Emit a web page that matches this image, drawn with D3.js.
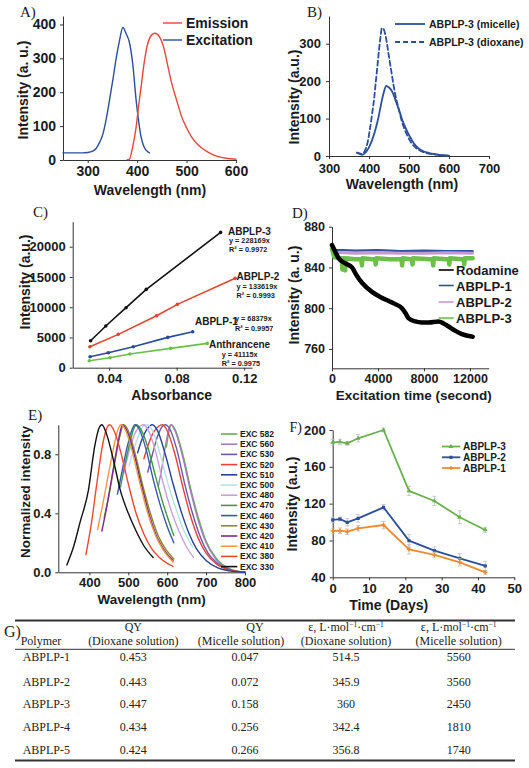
<!DOCTYPE html>
<html><head><meta charset="utf-8">
<script src="https://cdn.jsdelivr.net/npm/d3@7"></script>
<style>
body{margin:0;background:#fff}
svg{display:block}
.ax text{font-family:"Liberation Sans",Arial,Helvetica,sans-serif;font-weight:bold;fill:#1a1a1a}
.ax path,.ax line{stroke:#333;stroke-width:1}
</style></head><body>
<svg id="c" width="529" height="768"></svg>
<script>
// ---------- Panel A ----------
const aExcitation = [[250,21],[270,21],[290,21],[300,22],[310,26],[317,34],[324,52],[331,78],[338,125],[344,176],[351,238],[357,295],[364,350],[371,391],[378,372],[384,349],[391,285],[398,176],[403,115],[408,68],[413,42],[418,29],[425,21]];
const aEmission = [[380,1],[384,2],[391,39],[398,98],[403,160],[408,216],[415,295],[420,335],[425,359],[430,370],[436,374],[445,364],[455,325],[462,278],[470,226],[480,176],[490,128],[500,95],[510,68],[523,45],[537,29],[550,18],[564,10],[580,5],[600,2]];
const aXTicks = [300,400,500,600];
const aYTicks = [0,100,200,300,400];
// ---------- Panel B ----------
const bMicelle = [[370,9],[376,6],[383,3],[390,8],[396,16],[402,28],[408,43],[417,74],[423,100],[429,132],[436,166],[443,187],[450,183],[458,172],[466,150],[475,123],[483,97],[492,74],[502,52],[512,34],[522,22],[533,14],[550,8],[567,4.5],[585,2],[600,1]];
const bDioxane = [[370,9],[376,7],[383,5],[390,15],[396,34],[402,70],[408,114],[413,155],[417,198],[421,240],[425,283],[429,320],[432,341],[436,340],[440,328],[445,300],[450,265],[456,225],[462,185],[468,152],[475,123],[481,97],[488,74],[496,54],[504,38],[514,25],[525,16],[540,9],[558,5],[580,2],[600,1]];
const bXTicks = [300,400,500,600,700];
const bYTicks = [0,100,200,300];
// ---------- Panel C ----------
const cAbs3 = [0.029,0.038,0.050,0.062,0.106], cInt3 = [4460,6890,9920,12950,22370];
const cAbs2 = [0.0286,0.0454,0.0681,0.0804,0.1146], cInt2 = [3470,5510,8595,10470,14770];
const cAbs1 = [0.0287,0.0395,0.0543,0.0747,0.0895], cInt1 = [1820,2480,3470,5010,5950];
const cAbsA = [0.0282,0.0405,0.0523,0.0764,0.0981], cIntA = [1160,1650,2260,3200,4020];
const cNames = ["ABPLP-3","ABPLP-2","ABPLP-1","Anthrancene"];
const cEq = ["y = 228169x","y = 133619x","y = 68379x","y = 41115x"];
const cR2 = ["R² = 0.9972","R² = 0.9993","R² = 0.9957","R² = 0.9975"];
const cXTicks = [0.04,0.08,0.12];
const cYTicks = [0,5000,10000,15000,20000];
// ---------- Panel D ----------
const dRodamine = [[0,862],[300,855],[580,849],[1159,844],[1739,840],[2200,831],[2609,825],[3478,816],[4200,811],[4928,807],[5500,804],[6087,800],[6400,795],[6667,790],[7246,787],[7800,786],[8406,786],[9275,787],[9700,785],[10145,782],[10700,778],[11304,774.5],[12232,772]];
const dABPLP1 = [[0,862],[150,857],[1000,857],[2000,856.5],[4000,857],[6000,856],[8000,856.5],[10000,856],[12232,856]];
const dABPLP2 = [[0,860],[150,855],[2000,854],[4000,854.5],[6000,854],[8000,854],[10000,854.5],[12232,854]];
const dABPLP3 = [[0,858],[200,850],[700,849],[850,849],[900,838],[950,849],[1100,849],[1150,837],[1200,849],[2000,848],[2550,848],[2600,842],[2650,849],[3500,848],[3750,848],[3800,843],[3850,849],[5000,848],[6050,848],[6100,842],[6150,849],[6800,848],[6950,848],[7000,843],[7050,849],[8500,848],[8750,848],[8800,842],[8850,849],[9900,848],[10150,848],[10200,843],[10250,849],[11300,848],[11450,848],[11500,843],[11550,849],[12232,849]];
const dNames = ["Rodamine","ABPLP-1","ABPLP-2","ABPLP-3"];
const dXTicks = [0,4000,8000,12000];
const dYTicks = [760,800,840,880];
// ---------- Panel E ----------
const e330 = [[342,0.05],[360,0.18],[376,0.34],[397,0.55],[414,0.86],[425,0.98],[432,1.0],[445,0.93],[460,0.78],[480,0.55],[500,0.40],[520,0.28],[540,0.18],[564,0.10]];
const e380 = [[391,0.12],[405,0.33],[420,0.62],[435,0.88],[445,0.98],[452,1.0],[465,0.95],[480,0.82],[500,0.6],[520,0.4],[540,0.26],[560,0.16],[580,0.1],[600,0.06],[615,0.04]];
const e410 = [[421,0.29],[435,0.47],[450,0.68],[465,0.88],[475,0.98],[482,1.0],[495,0.95],[510,0.82],[530,0.6],[550,0.4],[570,0.25],[590,0.15],[615,0.07]];
const e420 = [[432,0.28],[445,0.45],[460,0.68],[475,0.9],[485,1.0],[498,0.95],[515,0.8],[535,0.58],[555,0.38],[575,0.23],[595,0.14],[615,0.08]];
const e430 = [[438,0.37],[450,0.52],[465,0.74],[478,0.92],[488,1.0],[500,0.96],[518,0.8],[538,0.58],[558,0.39],[578,0.24],[598,0.15],[617,0.09]];
const e460 = [[472,0.53],[485,0.7],[498,0.86],[510,0.97],[517,1.0],[528,0.97],[545,0.84],[565,0.62],[585,0.43],[600,0.31],[617,0.2]];
const e470 = [[480,0.58],[493,0.75],[505,0.89],[515,0.98],[521,1.0],[532,0.97],[550,0.85],[570,0.65],[590,0.46],[605,0.34],[617,0.25]];
const e480 = [[488,0.67],[500,0.8],[515,0.93],[530,0.99],[538,1.0],[550,0.97],[570,0.82],[590,0.6],[610,0.42],[630,0.28],[650,0.17],[668,0.1]];
const e500 = [[502,0.72],[515,0.84],[530,0.95],[542,1.0],[548,1.0],[560,0.97],[580,0.82],[600,0.62],[620,0.45],[640,0.3],[665,0.17]];
const e510 = [[524,0.81],[535,0.9],[548,0.97],[562,1.0],[575,0.96],[595,0.8],[615,0.6],[635,0.42],[655,0.27],[675,0.16],[700,0.08],[730,0.03],[760,0.01],[800,0]];
const e520 = [[540,0.77],[552,0.87],[565,0.95],[578,0.99],[588,1.0],[600,0.96],[620,0.8],[640,0.58],[660,0.38],[680,0.23],[700,0.13],[725,0.06],[760,0.015],[800,0]];
const e530 = [[550,0.68],[562,0.8],[575,0.92],[588,0.99],[595,1.0],[607,0.97],[625,0.83],[645,0.6],[665,0.4],[685,0.24],[705,0.13],[730,0.06],[765,0.015],[800,0]];
const e560 = [[577,0.58],[587,0.72],[597,0.88],[605,0.98],[610,1.0],[620,0.96],[640,0.78],[660,0.55],[680,0.35],[700,0.2],[725,0.09],[760,0.02],[800,0]];
const e582 = [[598,0.85],[604,0.95],[610,1.0],[620,0.97],[640,0.8],[660,0.57],[680,0.37],[700,0.21],[725,0.1],[760,0.025],[800,0]];
const eLabels = ["EXC 582","EXC 560","EXC 530","EXC 520","EXC 510","EXC 500","EXC 480","EXC 470","EXC 460","EXC 430","EXC 420","EXC 410","EXC 380","EXC 330"];
const eColors = ["#5fb24a","#a57cc4","#6a5aa6","#e8403a","#24428f","#b5e2e2","#c9a2d6","#3c9a46","#3a58a8","#8c8c2a","#7a2a8c","#f09a48","#ec4a30","#111111"];
const eXTicks = [400,500,600,700,800];
const eYTicks = [0,0.4,0.8];
// ---------- Panel F ----------
const fDays = [0,2,4,7,14,21,28,35,42];
const f3 = [186.6,187,185.5,191,200,133.8,122.9,105.2,91.4];
const f2 = [102.3,103.3,99.7,104,116,79.8,68.9,60.6,52.3];
const f1 = [90.3,90.6,89.5,93.2,96.8,70.4,64.3,56.3,45.4];
const f3Err = [3,3,2,4,2,5,5,7,3];
const f2Err = [3,2,4,4,3,7,4,5,5];
const f1Err = [3,3,3,3,4,5,3,4,2];
const fNames = ["ABPLP-3","ABPLP-2","ABPLP-1"];
const fXTicks = [0,10,20,30,40,50];
const fYTicks = [40,80,120,160,200];
// ---------- Table G ----------
const tPolymers = ["ABPLP-1","ABPLP-2","ABPLP-3","ABPLP-4","ABPLP-5"];
const tQYDiox = ["0.453","0.443","0.447","0.434","0.424"];
const tQYMic = ["0.047","0.072","0.158","0.256","0.266"];
const tEpsDiox = ["514.5","345.9","360","342.4","356.8"];
const tEpsMic = ["5560","3560","2450","1810","1740"];

// ================= drawing =================
const SANS = '"Liberation Sans", Arial, Helvetica, sans-serif';
const SERIF = '"Liberation Serif", "Times New Roman", Times, serif';
const svg = d3.select('#c');
svg.append('rect').attr('width',529).attr('height',768).attr('fill','#fff');

function axes(x, y, o){
  const gx = svg.append('g').attr('class','ax').attr('transform',`translate(0,${y.range()[0]})`)
    .call(d3.axisBottom(x).tickValues(o.xt).tickFormat(o.xf||d3.format('d')).tickSize(3).tickSizeOuter(0).tickPadding(o.xp||3));
  gx.selectAll('text').style('font-size',o.fs+'px');
  const gy = svg.append('g').attr('class','ax').attr('transform',`translate(${x.range()[0]},0)`)
    .call(d3.axisLeft(y).tickValues(o.yt).tickFormat(o.yf||d3.format('d')).tickSize(3).tickSizeOuter(0).tickPadding(o.yp||4));
  gy.selectAll('text').style('font-size',o.fs+'px');
}
function txt(x, y, s, o={}){
  const t = svg.append('text').attr('x',x).attr('y',y).text(s)
    .attr('font-family',o.ff||SANS).attr('font-weight',o.fw||'bold').attr('font-size',o.fs||13)
    .attr('fill',o.fill||'#1a1a1a').attr('text-anchor',o.anchor||'start');
  if(o.rot){ t.attr('transform',`rotate(-90,${x},${y})`).attr('dominant-baseline','middle').attr('text-anchor','middle'); }
  return t;
}
function path(data, x, y, color, w, o={}){
  const line = d3.line().x(d=>x(d[0])).y(d=>y(d[1])).curve(o.curve||d3.curveLinear);
  const p = svg.append('path').datum(data).attr('d',line).attr('fill','none').attr('stroke',color).attr('stroke-width',w)
    .attr('stroke-linejoin','round').attr('stroke-linecap','round');
  if(o.dash) p.attr('stroke-dasharray',o.dash);
  return p;
}

// ---- A ----
{
  const x = d3.scaleLinear().domain([250,600]).range([63,236]);
  const y = d3.scaleLinear().domain([0,425]).range([160,16]);
  axes(x,y,{xt:aXTicks,yt:aYTicks,fs:14});
  path(aExcitation,x,y,'#2c4f99',1.4,{curve:d3.curveMonotoneX});
  path(aEmission,x,y,'#e8463c',1.4,{curve:d3.curveMonotoneX});
  const lg=[["Emission",'#e8463c',23],["Excitation",'#2c4f99',40]];
  lg.forEach(l=>{ svg.append('line').attr('x1',163).attr('x2',182).attr('y1',l[2]).attr('y2',l[2]).attr('stroke',l[1]).attr('stroke-width',1.4);
    txt(186,l[2]+5,l[0],{fs:14}); });
  txt(20,17,'A)',{ff:SERIF,fw:'normal',fs:15});
  txt(150,195,'Wavelength (nm)',{fs:14,anchor:'middle'});
  txt(24,90,'Intensity (a. u.)',{fs:14,rot:true});
}
// ---- B ----
{
  const x = d3.scaleLinear().domain([300,700]).range([329,489]);
  const y = d3.scaleLinear().domain([0,374]).range([156,16]);
  axes(x,y,{xt:bXTicks,yt:bYTicks,fs:13,xp:5,yp:5});
  path(bMicelle,x,y,'#2d4f9a',1.8,{curve:d3.curveMonotoneX});
  path(bDioxane,x,y,'#2d4f9a',1.8,{curve:d3.curveMonotoneX,dash:'5,3'});
  [["ABPLP-3 (micelle)",24,null],["ABPLP-3 (dioxane)",42,'5,3']].forEach(l=>{
    const ln=svg.append('line').attr('x1',395).attr('x2',425).attr('y1',l[1]).attr('y2',l[1]).attr('stroke','#2d4f9a').attr('stroke-width',1.8);
    if(l[2]) ln.attr('stroke-dasharray',l[2]);
    txt(429,l[1]+4,l[0],{fs:10.5});
  });
  txt(307,17,'B)',{ff:SERIF,fw:'normal',fs:15});
  txt(402,189,'Wavelength (nm)',{fs:14,anchor:'middle'});
  txt(295,97,'Intensity (a.u.)',{fs:14,rot:true});
}
// ---- C ----
{
  const x = d3.scaleLinear().domain([0.0184,0.1246]).range([72.7,252]);
  const y = d3.scaleLinear().domain([0,24135]).range([367.7,221.7]);
  axes(x,y,{xt:cXTicks,yt:cYTicks,fs:13,xf:d3.format('.2f')});
  const sets=[[cAbs3,cInt3,'#111'],[cAbs2,cInt2,'#e8432e'],[cAbs1,cInt1,'#2a4aa0'],[cAbsA,cIntA,'#6ac046']];
  sets.forEach(s=>{
    const pts=s[0].map((v,i)=>[v,s[1][i]]);
    path(pts,x,y,s[2],1.6);
    svg.selectAll(null).data(pts).enter().append('circle').attr('cx',d=>x(d[0])).attr('cy',d=>y(d[1])).attr('r',1.8).attr('fill',s[2]);
  });
  txt(228,235,cNames[0],{fs:10});
  txt(229,242.5,cEq[0],{fs:7.3});
  txt(229,251.5,cR2[0],{fs:7.3});
  txt(236.5,280,cNames[1],{fs:10});
  txt(236.5,288.5,cEq[1],{fs:7.3});
  txt(236.5,298,cR2[1],{fs:7.3});
  txt(195,325,cNames[2],{fs:10});
  txt(235,321,cEq[2],{fs:7.3});
  txt(235,331,cR2[2],{fs:7.3});
  txt(209,348,cNames[3],{fs:10});
  txt(221.7,357,cEq[3],{fs:7.3});
  txt(221.7,366,cR2[3],{fs:7.3});
  txt(33,217,'C)',{ff:SERIF,fw:'normal',fs:15});
  txt(171.7,400,'Absorbance',{fs:14,anchor:'middle'});
  txt(26,282,'Intensity (a.u.)',{fs:14,rot:true});
}
// ---- D ----
{
  const x = d3.scaleLinear().domain([0,13627]).range([332,488.7]);
  const y = d3.scaleLinear().domain([741,880]).range([368.3,226.7]);
  axes(x,y,{xt:dXTicks,yt:dYTicks,fs:12.5});
  path(dABPLP1,x,y,'#2f4fa0',2.2);
  path(dABPLP2,x,y,'#c49ad0',3);
  path(dABPLP3,x,y,'#6cc04a',4.5);
  path(dRodamine,x,y,'#000',4.5,{curve:d3.curveMonotoneX});
  const cols=['#000','#2f4fa0','#c49ad0','#6cc04a'];
  const ly=[270,285.5,302,318];
  dNames.forEach((n,i)=>{
    svg.append('line').attr('x1',438.7).attr('x2',453.7).attr('y1',ly[i]).attr('y2',ly[i]).attr('stroke',cols[i]).attr('stroke-width',1.6);
    txt(456,ly[i]+5,n,{fs:13});
  });
  txt(292,218,'D)',{ff:SERIF,fw:'normal',fs:15});
  txt(413.7,400,'Excitation time (second)',{fs:13.5,anchor:'middle'});
  txt(295,295,'Intensity (a. u.)',{fs:14,rot:true});
}
// ---- E ----
{
  const x = d3.scaleLinear().domain([320,800]).range([58.3,245]);
  const y = d3.scaleLinear().domain([0,1]).range([572.3,424.8]);
  axes(x,y,{xt:eXTicks,yt:eYTicks,fs:13,yf:d3.format('.1f'),xp:2});
  const eSeries=[e582,e560,e530,e520,e510,e500,e480,e470,e460,e430,e420,e410,e380,e330];
  eSeries.forEach((s,i)=>path(s,x,y,eColors[i],1.4,{curve:d3.curveMonotoneX}));
  eLabels.forEach((l,i)=>{
    const yy=434+i*10.2;
    svg.append('line').attr('x1',221).attr('x2',237.3).attr('y1',yy).attr('y2',yy).attr('stroke',eColors[i]).attr('stroke-width',1.6);
    txt(240,yy+3,l,{fs:8.5});
  });
  txt(28,420,'E)',{ff:SERIF,fw:'normal',fs:15});
  txt(151.7,604,'Wavelength (nm)',{fs:13.5,anchor:'middle'});
  txt(26.7,492,'Normalized intensity',{fs:13.5,rot:true});
}
// ---- F ----
{
  const x = d3.scaleLinear().domain([0,50]).range([332.7,514.3]);
  const y = d3.scaleLinear().domain([40,200]).range([577.3,430]);
  axes(x,y,{xt:fXTicks,yt:fYTicks,fs:13});
  const sets=[[f3,f3Err,'#6ab04c','tri'],[f2,f2Err,'#2a4f9f','sq'],[f1,f1Err,'#f08a30','x']];
  sets.forEach(s=>{
    const pts=fDays.map((d,i)=>[d,s[0][i],s[1][i]]);
    pts.forEach(p=>{
      svg.append('line').attr('x1',x(p[0])).attr('x2',x(p[0])).attr('y1',y(p[1]-p[2])).attr('y2',y(p[1]+p[2])).attr('stroke','#bbb').attr('stroke-width',0.8);
      [p[1]-p[2],p[1]+p[2]].forEach(v=>svg.append('line').attr('x1',x(p[0])-2).attr('x2',x(p[0])+2).attr('y1',y(v)).attr('y2',y(v)).attr('stroke','#bbb').attr('stroke-width',0.8));
    });
    path(pts,x,y,s[2],1.8);
    const sym = s[3]==='tri'?d3.symbolTriangle:(s[3]==='sq'?d3.symbolSquare:d3.symbolCross);
    svg.selectAll(null).data(pts).enter().append('path').attr('d',d3.symbol().type(sym).size(10))
      .attr('transform',d=>`translate(${x(d[0])},${y(d[1])})`).attr('fill',s[2]);
  });
  const ly=[446.5,457.3,468];
  fNames.forEach((n,i)=>{
    svg.append('line').attr('x1',442).attr('x2',460.3).attr('y1',ly[i]).attr('y2',ly[i]).attr('stroke',sets[i][2]).attr('stroke-width',1.8);
    const sym = i===0?d3.symbolTriangle:(i===1?d3.symbolSquare:d3.symbolCross);
    svg.append('path').attr('d',d3.symbol().type(sym).size(10)).attr('transform',`translate(451,${ly[i]})`).attr('fill',sets[i][2]);
    txt(463,ly[i]+3.6,n,{fs:10});
  });
  txt(289.5,432,'F)',{ff:SERIF,fw:'normal',fs:14});
  txt(388.7,610,'Time (Days)',{fs:14,anchor:'middle'});
  txt(293.7,504,'Intensity (a.u.)',{fs:14,rot:true});
}
// ---- G table ----
{
  const rule=(y,w)=>svg.append('line').attr('x1',15).attr('x2',515).attr('y1',y).attr('y2',y).attr('stroke','#333').attr('stroke-width',w);
  rule(620.5,2); rule(649.3,1); rule(760.5,2);
  const tf={ff:SERIF,fw:'normal',fs:12,fill:'#222'};
  txt(4,637,'G)',{ff:SERIF,fw:'normal',fs:16,fill:'#222'});
  txt(20.7,645,'Polymer',tf);
  txt(133.3,631,'QY',{...tf,anchor:'middle'});
  txt(133.3,644.5,'(Dioxane solution)',{...tf,anchor:'middle'});
  txt(255,631,'QY',{...tf,anchor:'middle'});
  txt(241,644.5,'(Micelle solution)',{...tf,anchor:'middle'});
  [[346,'(Dioxane solution)'],[458.7,'(Micelle solution)']].forEach(c=>{
    const t=txt(c[0],631,'',{...tf,anchor:'middle'});
    t.append('tspan').text('ε, L·mol');
    t.append('tspan').attr('dy',-4).attr('font-size',7.5).text('−1');
    t.append('tspan').attr('dy',4).text('·cm');
    t.append('tspan').attr('dy',-4).attr('font-size',7.5).text('−1');
    txt(c[0],644.5,c[1],{...tf,anchor:'middle'});
  });
  const rowY=[661,685.5,708,731,753.5];
  tPolymers.forEach((p,i)=>{
    txt(22.7,rowY[i],p,tf);
    txt(133.3,rowY[i],tQYDiox[i],{...tf,anchor:'middle'});
    txt(245,rowY[i],tQYMic[i],{...tf,anchor:'middle'});
    txt(346,rowY[i],tEpsDiox[i],{...tf,anchor:'middle'});
    txt(458.7,rowY[i],tEpsMic[i],{...tf,anchor:'middle'});
  });
}
</script></body></html>
